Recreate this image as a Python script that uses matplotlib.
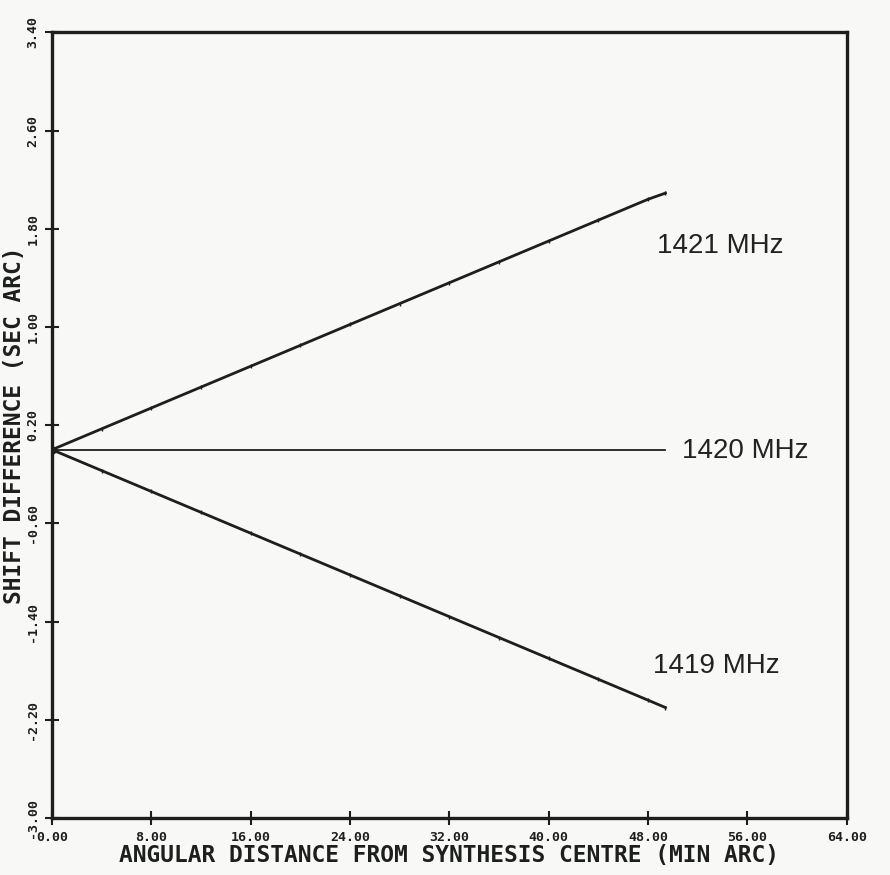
import numpy as np
import matplotlib.pyplot as plt

# angular distance from synthesis centre (min arc) at the plotted points
dist = [0.0, 4.0, 8.0, 12.0, 16.0, 20.0, 24.0, 28.0, 32.0, 36.0, 40.0, 44.0, 48.0, 49.4]

# shift difference (sec arc) for each frequency
shift_1421 = [0.00, 0.17, 0.34, 0.51, 0.68, 0.85, 1.02, 1.19, 1.36, 1.53, 1.70, 1.87, 2.04, 2.09]
shift_1420 = [0.00, 0.00, 0.00, 0.00, 0.00, 0.00, 0.00, 0.00, 0.00, 0.00, 0.00, 0.00, 0.00, 0.00]
shift_1419 = [0.00, -0.17, -0.34, -0.51, -0.68, -0.85, -1.02, -1.19, -1.36, -1.53, -1.70, -1.87, -2.04, -2.10]

curve_labels = ["1421 MHz", "1420 MHz", "1419 MHz"]

x_ticks = [0, 8, 16, 24, 32, 40, 48, 56, 64]
y_ticks = [-3.0, -2.2, -1.4, -0.6, 0.2, 1.0, 1.8, 2.6, 3.4]

ink = "#1d1f1d"
paper = "#f8f8f6"

fig = plt.figure(figsize=(8.9, 8.75), dpi=100, facecolor=paper)
ax = fig.add_axes([0.0584, 0.0651, 0.893, 0.898], facecolor=paper)

ax.plot(dist, shift_1421, color=ink, lw=2.0, marker='|', ms=3, mew=1.0)
ax.plot(dist, shift_1420, color=ink, lw=1.3)
ax.plot(dist, shift_1419, color=ink, lw=2.0, marker='|', ms=3, mew=1.0)
ax.plot([0], [0], 'o', color=ink, ms=5)

ax.set_xlim(0, 64)
ax.set_ylim(-3.0, 3.4)
ax.set_xticks(x_ticks)
ax.set_yticks(y_ticks)

mono = dict(family='DejaVu Sans Mono', weight='bold', size=9.5)
ax.set_xticklabels([f"{v:.2f}" for v in x_ticks], fontdict=mono, color=ink)
ax.set_yticklabels([f"{v:.2f}" for v in y_ticks], fontdict=mono, color=ink,
                   rotation=90, va='center')

ax.tick_params(direction='inout', length=10, width=1.5, color=ink, pad=4)
for side in ax.spines.values():
    side.set_linewidth(2.4)
    side.set_color(ink)

ax.set_xlabel("ANGULAR DISTANCE FROM SYNTHESIS CENTRE (MIN ARC)",
              family='DejaVu Sans Mono', weight='bold', size=16.5,
              color=ink, labelpad=0)
ax.set_ylabel("SHIFT DIFFERENCE (SEC ARC)",
              family='DejaVu Sans Mono', weight='bold', size=16.5,
              color=ink, labelpad=0)

# curve names beside the line ends
label_pos = [(48.7, 1.60), (50.7, -0.07), (48.4, -1.82)]
for name, (lx, ly) in zip(curve_labels, label_pos):
    ax.text(lx, ly, name, family='Liberation Sans', size=20,
            color="#222222", va='baseline', ha='left')

fig.savefig("out.png", dpi=100, facecolor=paper)
